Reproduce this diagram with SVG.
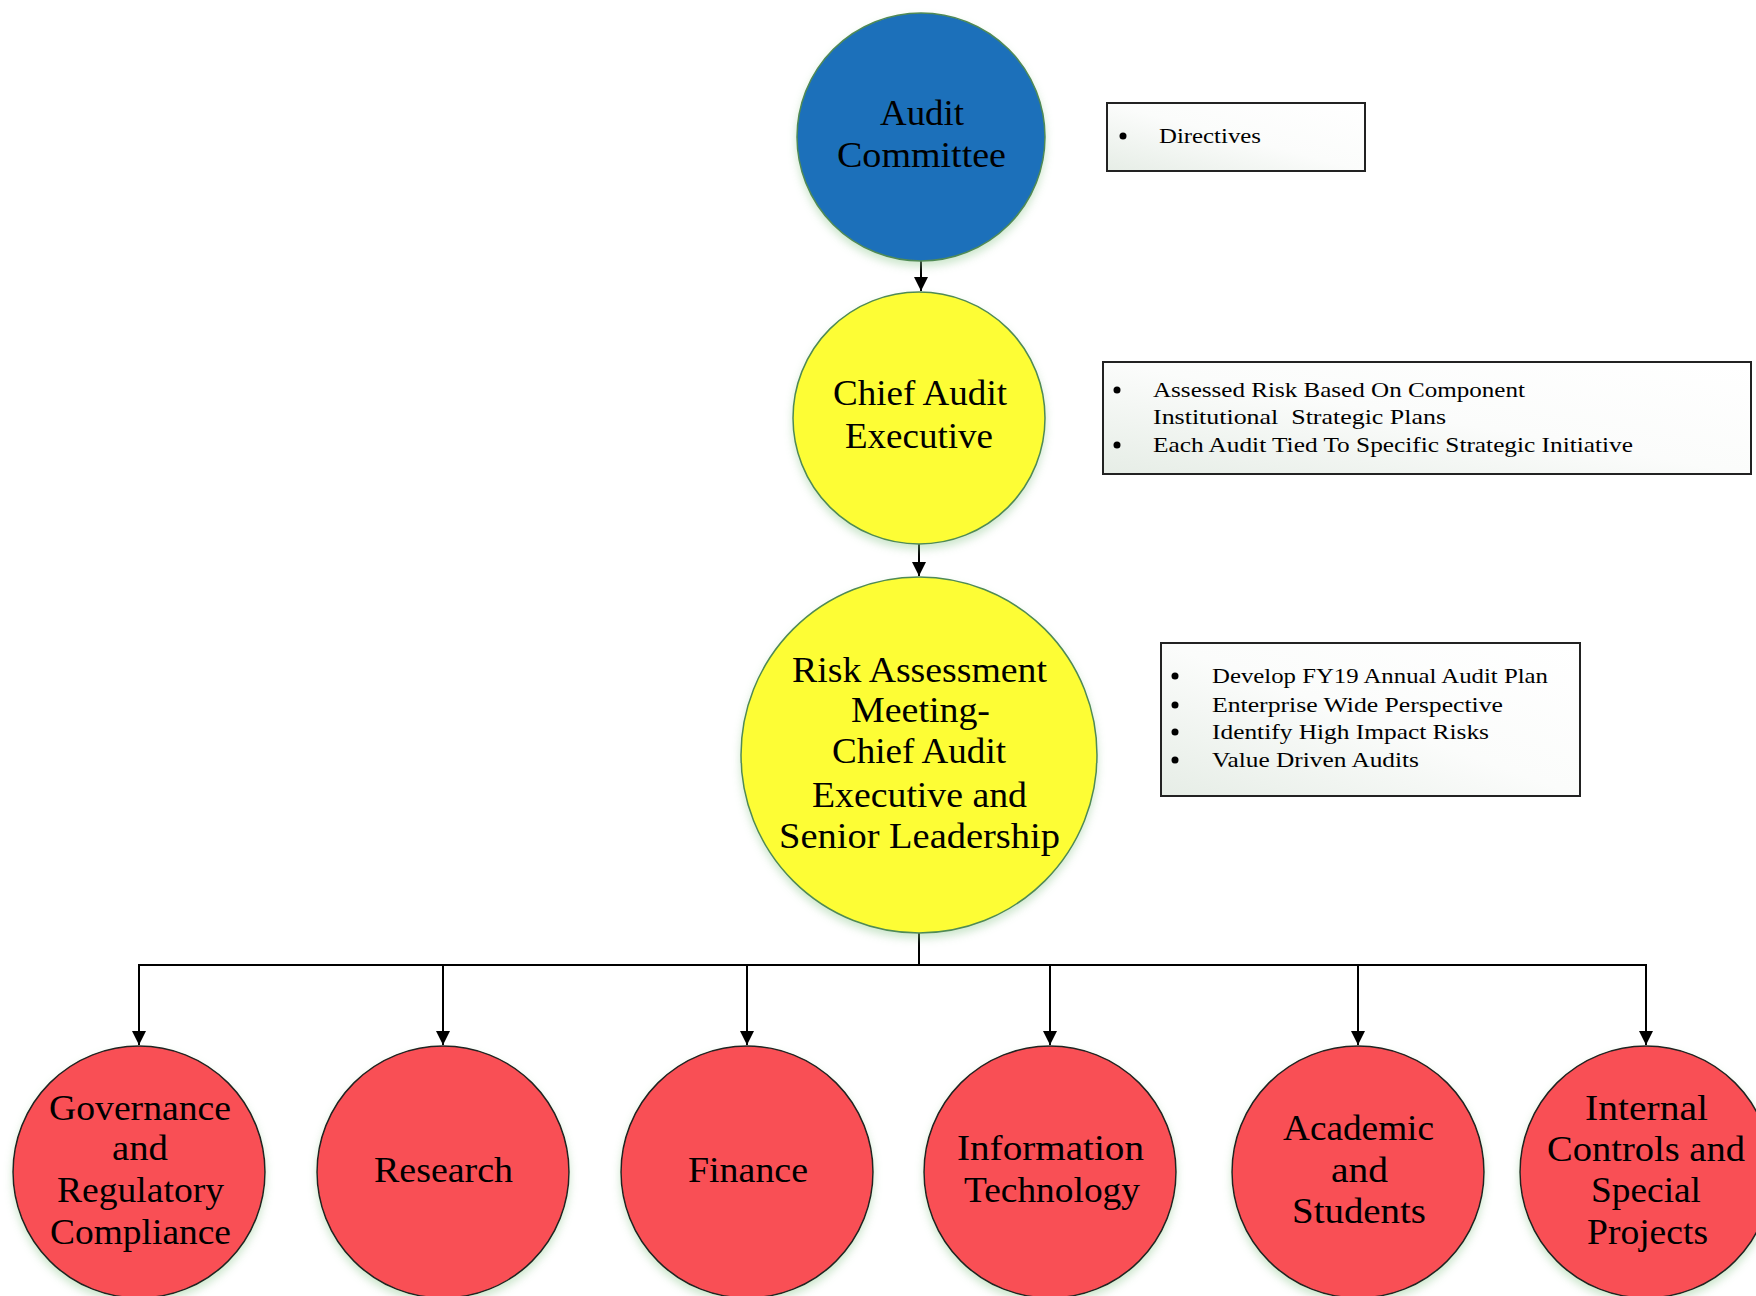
<svg xmlns="http://www.w3.org/2000/svg" width="1756" height="1296" viewBox="0 0 1756 1296">
<style>
.ct{font-family:"Liberation Serif","Times New Roman",serif;font-size:35px;fill:#000}
.bt{font-family:"Liberation Serif","Times New Roman",serif;font-size:22px;fill:#000}
.top{stroke:#4f8a55;stroke-width:1.5;filter:url(#sh)}
.red{fill:#f94f55;stroke:#222;stroke-width:1.5;filter:url(#sh)}
.box{fill:url(#bg);stroke:#222;stroke-width:2}
.conn{fill:none;stroke:#000;stroke-width:2}
</style>
<defs>
<linearGradient id="bg" x1="0" y1="1" x2="1" y2="0">
<stop offset="0" stop-color="#e6ede6"/>
<stop offset="0.5" stop-color="#fbfcfb"/>
<stop offset="1" stop-color="#ffffff"/>
</linearGradient>
<filter id="sh" x="-20%" y="-20%" width="140%" height="150%">
<feDropShadow dx="0" dy="5" stdDeviation="4" flood-color="#8fc98f" flood-opacity="0.45"/>
</filter>
<marker id="ah" markerUnits="userSpaceOnUse" markerWidth="14" markerHeight="16" refX="14" refY="7" orient="auto" viewBox="0 0 14 14">
<path d="M0,0 L14,7 L0,14 z" fill="#000"/>
</marker>
</defs>
<rect width="1756" height="1296" fill="#fff"/>

<g id="connectors">
<line class="conn" x1="921" y1="261" x2="921" y2="291" marker-end="url(#ah)"/>
<line class="conn" x1="919" y1="544" x2="919" y2="576" marker-end="url(#ah)"/>
<polyline class="conn" points="919,933 919,965"/>
<line class="conn" x1="139" y1="965" x2="1646" y2="965"/>
<line class="conn" x1="139" y1="964" x2="139" y2="1045" marker-end="url(#ah)"/>
<line class="conn" x1="443" y1="964" x2="443" y2="1045" marker-end="url(#ah)"/>
<line class="conn" x1="747" y1="964" x2="747" y2="1045" marker-end="url(#ah)"/>
<line class="conn" x1="1050" y1="964" x2="1050" y2="1045" marker-end="url(#ah)"/>
<line class="conn" x1="1358" y1="964" x2="1358" y2="1045" marker-end="url(#ah)"/>
<line class="conn" x1="1646" y1="964" x2="1646" y2="1045" marker-end="url(#ah)"/>
</g>

<g id="audit-committee">
<circle class="top" cx="921" cy="137" r="124" fill="#1f6fba"/>
<text class="ct" x="880" y="125" textLength="84" lengthAdjust="spacingAndGlyphs">Audit</text>
<text class="ct" x="837" y="167" textLength="169" lengthAdjust="spacingAndGlyphs">Committee</text>
</g>

<g id="chief-audit-executive">
<circle class="top" cx="919" cy="418" r="126" fill="#fdfd35"/>
<text class="ct" x="833" y="405" textLength="174" lengthAdjust="spacingAndGlyphs">Chief Audit</text>
<text class="ct" x="845" y="448" textLength="148" lengthAdjust="spacingAndGlyphs">Executive</text>
</g>

<g id="risk-assessment">
<circle class="top" cx="919" cy="755" r="178" fill="#fdfd35"/>
<text class="ct" x="792" y="682" textLength="255" lengthAdjust="spacingAndGlyphs">Risk Assessment</text>
<text class="ct" x="851" y="722" textLength="139" lengthAdjust="spacingAndGlyphs">Meeting-</text>
<text class="ct" x="832" y="763" textLength="174" lengthAdjust="spacingAndGlyphs">Chief Audit</text>
<text class="ct" x="812" y="807" textLength="215" lengthAdjust="spacingAndGlyphs">Executive and</text>
<text class="ct" x="779" y="848" textLength="281" lengthAdjust="spacingAndGlyphs">Senior Leadership</text>
</g>

<g id="directives-box">
<rect class="box" x="1107" y="103" width="258" height="68"/>
<circle cx="1123" cy="136" r="3.5" fill="#000"/>
<text class="bt" x="1159" y="143" textLength="102" lengthAdjust="spacingAndGlyphs">Directives</text>
</g>

<g id="cae-box">
<rect class="box" x="1103" y="362" width="648" height="112"/>
<circle cx="1117" cy="390" r="3.5" fill="#000"/>
<text class="bt" x="1153" y="397" textLength="372" lengthAdjust="spacingAndGlyphs">Assessed Risk Based On Component</text>
<text class="bt" x="1153" y="424" textLength="293" lengthAdjust="spacingAndGlyphs" xml:space="preserve">Institutional  Strategic Plans</text>
<circle cx="1117" cy="445" r="3.5" fill="#000"/>
<text class="bt" x="1153" y="452" textLength="480" lengthAdjust="spacingAndGlyphs">Each Audit Tied To Specific Strategic Initiative</text>
</g>

<g id="risk-box">
<rect class="box" x="1161" y="643" width="419" height="153"/>
<circle cx="1175" cy="676" r="3.5" fill="#000"/>
<text class="bt" x="1212" y="683" textLength="336" lengthAdjust="spacingAndGlyphs">Develop FY19 Annual Audit Plan</text>
<circle cx="1175" cy="705" r="3.5" fill="#000"/>
<text class="bt" x="1212" y="712" textLength="291" lengthAdjust="spacingAndGlyphs">Enterprise Wide Perspective</text>
<circle cx="1175" cy="732" r="3.5" fill="#000"/>
<text class="bt" x="1212" y="739" textLength="277" lengthAdjust="spacingAndGlyphs">Identify High Impact Risks</text>
<circle cx="1175" cy="760" r="3.5" fill="#000"/>
<text class="bt" x="1212" y="767" textLength="207" lengthAdjust="spacingAndGlyphs">Value Driven Audits</text>
</g>

<g id="governance">
<circle class="red" cx="139" cy="1172" r="126"/>
<text class="ct" x="49" y="1120" textLength="182" lengthAdjust="spacingAndGlyphs">Governance</text>
<text class="ct" x="112" y="1160" textLength="56" lengthAdjust="spacingAndGlyphs">and</text>
<text class="ct" x="57" y="1202" textLength="167" lengthAdjust="spacingAndGlyphs">Regulatory</text>
<text class="ct" x="50" y="1244" textLength="181" lengthAdjust="spacingAndGlyphs">Compliance</text>
</g>

<g id="research">
<circle class="red" cx="443" cy="1172" r="126"/>
<text class="ct" x="374" y="1182" textLength="139" lengthAdjust="spacingAndGlyphs">Research</text>
</g>

<g id="finance">
<circle class="red" cx="747" cy="1172" r="126"/>
<text class="ct" x="688" y="1182" textLength="120" lengthAdjust="spacingAndGlyphs">Finance</text>
</g>

<g id="information-technology">
<circle class="red" cx="1050" cy="1172" r="126"/>
<text class="ct" x="957" y="1160" textLength="187" lengthAdjust="spacingAndGlyphs">Information</text>
<text class="ct" x="964" y="1202" textLength="176" lengthAdjust="spacingAndGlyphs">Technology</text>
</g>

<g id="academic-students">
<circle class="red" cx="1358" cy="1172" r="126"/>
<text class="ct" x="1283" y="1140" textLength="151" lengthAdjust="spacingAndGlyphs">Academic</text>
<text class="ct" x="1331" y="1182" textLength="57" lengthAdjust="spacingAndGlyphs">and</text>
<text class="ct" x="1292" y="1223" textLength="134" lengthAdjust="spacingAndGlyphs">Students</text>
</g>

<g id="internal-controls">
<circle class="red" cx="1646" cy="1172" r="126"/>
<text class="ct" x="1585" y="1120" textLength="123" lengthAdjust="spacingAndGlyphs">Internal</text>
<text class="ct" x="1547" y="1161" textLength="198" lengthAdjust="spacingAndGlyphs">Controls and</text>
<text class="ct" x="1591" y="1202" textLength="110" lengthAdjust="spacingAndGlyphs">Special</text>
<text class="ct" x="1587" y="1244" textLength="121" lengthAdjust="spacingAndGlyphs">Projects</text>
</g>
</svg>
